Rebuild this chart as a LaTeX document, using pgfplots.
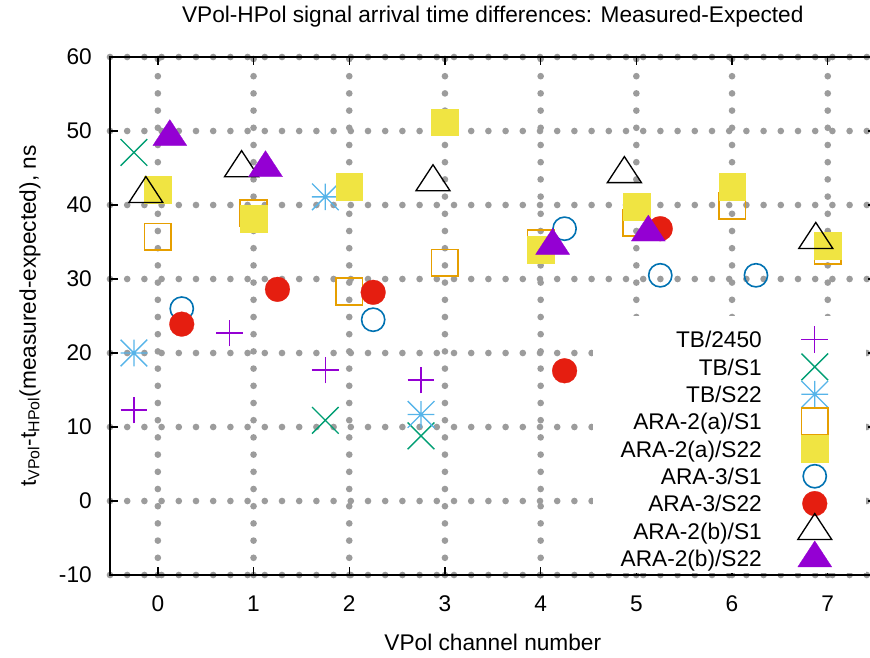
\documentclass[border=0pt]{standalone}
\usepackage{fontspec}
\setmainfont{Liberation Sans}
\usepackage{pgfplots}
\pgfplotsset{compat=1.18}
\definecolor{gpviolet}{HTML}{9400D3}
\definecolor{gpgreen}{HTML}{009E73}
\definecolor{gpsky}{HTML}{56B4E9}
\definecolor{gporange}{HTML}{E69F00}
\definecolor{gpyellow}{HTML}{F0E442}
\definecolor{gpblue}{HTML}{0072B2}
\definecolor{gpred}{HTML}{E51E10}
\definecolor{gridgray}{HTML}{9C9C9C}
\newcommand\gpfont{\fontsize{17}{20.4}\selectfont}
\pgfdeclareplotmark{gpplus}{%
  \pgfpathmoveto{\pgfqpoint{-10pt}{0pt}}\pgfpathlineto{\pgfqpoint{10pt}{0pt}}%
  \pgfpathmoveto{\pgfqpoint{0pt}{-10pt}}\pgfpathlineto{\pgfqpoint{0pt}{10pt}}%
  \pgfusepathqstroke}
\pgfdeclareplotmark{gpcross}{%
  \pgfpathmoveto{\pgfqpoint{-10pt}{-10pt}}\pgfpathlineto{\pgfqpoint{10pt}{10pt}}%
  \pgfpathmoveto{\pgfqpoint{-10pt}{10pt}}\pgfpathlineto{\pgfqpoint{10pt}{-10pt}}%
  \pgfusepathqstroke}
\pgfdeclareplotmark{gpstar}{%
  \pgfpathmoveto{\pgfqpoint{-10pt}{0pt}}\pgfpathlineto{\pgfqpoint{10pt}{0pt}}%
  \pgfpathmoveto{\pgfqpoint{0pt}{-10pt}}\pgfpathlineto{\pgfqpoint{0pt}{10pt}}%
  \pgfpathmoveto{\pgfqpoint{-10pt}{-10pt}}\pgfpathlineto{\pgfqpoint{10pt}{10pt}}%
  \pgfpathmoveto{\pgfqpoint{-10pt}{10pt}}\pgfpathlineto{\pgfqpoint{10pt}{-10pt}}%
  \pgfusepathqstroke}
\pgfdeclareplotmark{gptri}{%
  \pgfpathmoveto{\pgfqpoint{0pt}{13pt}}\pgfpathlineto{\pgfqpoint{12.75pt}{-6.5pt}}%
  \pgfpathlineto{\pgfqpoint{-12.75pt}{-6.5pt}}\pgfpathclose
  \pgfusepathqstroke}
\pgfdeclareplotmark{gptri*}{%
  \pgfpathmoveto{\pgfqpoint{0pt}{13pt}}\pgfpathlineto{\pgfqpoint{12.75pt}{-6.5pt}}%
  \pgfpathlineto{\pgfqpoint{-12.75pt}{-6.5pt}}\pgfpathclose
  \pgfusepathqfillstroke}
\begin{document}
\begin{tikzpicture}
\useasboundingbox (-82.5pt,-61.5pt) rectangle (570pt,431.25pt);
\begin{axis}[
  at={(0pt,0pt)}, anchor=south west,
  scale only axis, width=574.2pt, height=388.5pt,
  xmin=-0.5, xmax=7.5, ymin=-10, ymax=60,
  xtick={0,1,...,7}, ytick={-10,0,...,60},
  grid=major,
  major grid style={gridgray, line width=5pt, line cap=round, dash pattern=on 0pt off 12.9pt},
  axis line style={black, line width=1.1pt},
  major tick length=6pt,
  tick style={black, line width=1pt},
  tick align=inside,
  ticklabel style={font=\gpfont},
  /pgf/number format/assume math mode=true,
  xticklabel style={anchor=base, inner sep=0pt, yshift=-27pt},
  yticklabel style={anchor=east, inner sep=0pt, xshift=-13.5pt},
  title={VPol-HPol signal arrival time differences: Measured-Expected},
  title style={font=\gpfont, at={(axis description cs:0.5,1.0521)}, anchor=base},
  xlabel={VPol channel number},
  xlabel style={font=\gpfont, at={(axis description cs:0.5,-0.1448)}, anchor=base},
  ylabel={t\textsubscript{VPol}-t\textsubscript{HPol}(measured-expected), ns},
  ylabel style={font=\gpfont, at={(axis description cs:-0.1045,0.5)}, anchor=center},
  legend plot pos=right,
  legend image code/.code={\path[draw=none,fill=none] (-15pt,-10.25pt) rectangle (15pt,10.25pt);
    \draw[overlay,mark repeat=1,#1] plot coordinates {(0pt,0pt)};},
  legend style={at={(0.947,0.4814)}, anchor=north east, draw=none, fill=none,
    inner sep=0pt, row sep=0pt, column sep=24.75pt, font=\gpfont,
    nodes={inner sep=0pt, text height=12.2pt, text depth=0pt, minimum height=20.5pt},
    cells={anchor=east}},
]
\fill[white] (rel axis cs:0.631,0.004) rectangle (rel axis cs:0.987,0.5);

\addplot[only marks, mark=gpplus, gpviolet, line width=1pt] coordinates {
 (-0.25,12.3) (0.75,22.7) (1.75,17.7) (2.75,16.35)};
\addlegendentry{TB/2450}
\addplot[only marks, mark=gpcross, gpgreen, line width=1pt] coordinates {
 (-0.25,47.1) (1.75,10.9) (2.75,8.8)};
\addlegendentry{TB/S1}
\addplot[only marks, mark=gpstar, gpsky, line width=1pt] coordinates {
 (-0.25,20.0) (1.75,41.1) (2.75,11.7)};
\addlegendentry{TB/S22}
\addplot[only marks, mark=square, mark size=10pt, gporange, line width=1.2pt] coordinates {
 (0,35.7) (1,38.9) (2,28.3) (3,32.2) (4,34.8) (5,37.6) (6,39.9) (7,33.8)};
\addlegendentry{ARA-2(a)/S1}
\addplot[only marks, mark=square*, mark size=10pt, gpyellow, line width=0.2pt] coordinates {
 (0,42.1) (1,38.2) (2,42.5) (3,51.2) (4,34.0) (5,39.8) (6,42.5) (7,34.5)};
\addlegendentry{ARA-2(a)/S22}
\addplot[only marks, mark=o, mark size=8.7pt, gpblue, line width=1.2pt] coordinates {
 (0.25,26.0) (2.25,24.5) (4.25,36.8) (5.25,30.5) (6.25,30.5)};
\addlegendentry{ARA-3/S1}
\addplot[only marks, mark=*, mark size=9.3pt, gpred, line width=0.2pt] coordinates {
 (0.25,23.9) (1.25,28.6) (2.25,28.2) (4.25,17.6) (5.25,36.8)};
\addlegendentry{ARA-3/S22}
\addplot[only marks, mark=gptri, black, line width=1pt] coordinates {
 (-0.125,41.5) (0.875,45.0) (2.875,43.1) (4.875,44.2) (6.875,35.3)};
\addlegendentry{ARA-2(b)/S1}
\addplot[only marks, mark=gptri*, gpviolet, line width=0.2pt] coordinates {
 (0.125,49.2) (1.125,45.0) (4.125,34.5) (5.125,36.3)};
\addlegendentry{ARA-2(b)/S22}
\end{axis}
\end{tikzpicture}
\end{document}
